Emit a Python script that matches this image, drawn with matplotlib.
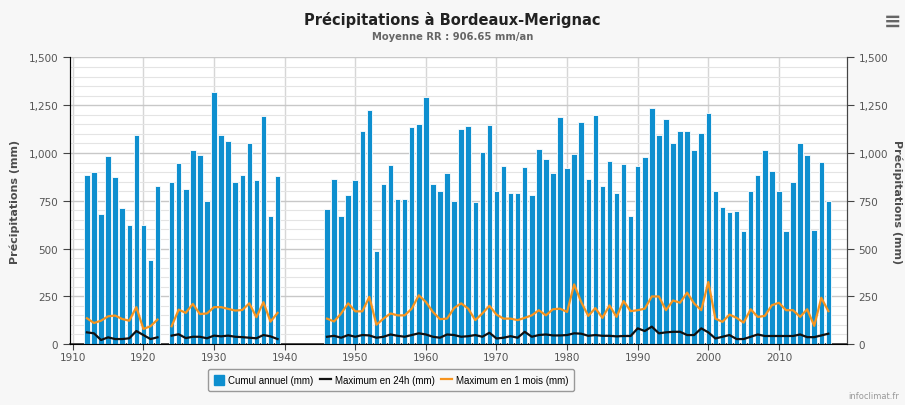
import numpy as np
import matplotlib
matplotlib.use("Agg")
import matplotlib.pyplot as plt
from matplotlib.patches import Patch
from matplotlib.lines import Line2D
from matplotlib.ticker import MultipleLocator, FuncFormatter

nan = np.nan
years = list(range(1912, 2018))

# cumul annuel (mm), 1912 -> 2017, trous = annees manquantes
cumul = [887, 898, 683, 985, 872, 711, 622, 1092, 622, 442,
         825, nan, 846, 945, 812, 1013, 989, 749, 1321, 1096,
         1061, 846, 886, 1054, 856, 1193, 671, 882, nan, nan,
         nan, nan, nan, nan, 709, 866, 671, 779, 861, 1115,
         1225, 489, 839, 936, 758, 758, 1134, 1151, 1295, 839,
         800, 896, 749, 1123, 1141, 744, 1003, 1146, 802, 931,
         791, 791, 926, 779, 1022, 966, 893, 1190, 921, 994,
         1164, 866, 1198, 828, 957, 791, 943, 669, 931, 978,
         1235, 1094, 1178, 1054, 1115, 1115, 1017, 1102, 1209, 802,
         718, 692, 695, 594, 802, 884, 1013, 905, 802, 589,
         846, 1054, 992, 599, 954, 748]

# maximum en 24h (mm)
max_24h = [61, 56, 21, 35, 26, 26, 30, 68, 47, 26,
           35, nan, 44, 51, 31, 38, 38, 30, 44, 40,
           44, 38, 36, 33, 30, 47, 40, 26, nan, nan,
           nan, nan, nan, nan, 38, 43, 33, 47, 38, 47,
           45, 33, 38, 50, 43, 38, 47, 56, 50, 38,
           33, 50, 47, 38, 41, 47, 38, 59, 29, 33,
           41, 33, 64, 38, 47, 50, 45, 45, 47, 56,
           54, 43, 47, 43, 43, 40, 42, 42, 82, 68,
           91, 56, 61, 64, 64, 47, 47, 82, 61, 29,
           38, 47, 26, 26, 38, 50, 42, 42, 42, 42,
           42, 50, 36, 36, 45, 54]

# maximum en 1 mois (mm)
max_1m = [135, 110, 122, 145, 149, 131, 122, 193, 79, 93,
          128, nan, 93, 180, 163, 210, 157, 160, 193, 193,
          184, 175, 178, 213, 140, 219, 117, 163, nan, nan,
          nan, nan, nan, nan, 133, 118, 160, 213, 171, 171,
          247, 101, 133, 160, 150, 150, 185, 255, 220, 168,
          130, 133, 188, 213, 185, 125, 160, 200, 154, 133,
          133, 125, 137, 150, 177, 150, 182, 185, 168, 312,
          220, 147, 188, 137, 202, 142, 225, 172, 177, 185,
          249, 249, 177, 228, 216, 269, 212, 177, 325, 133,
          116, 154, 137, 112, 182, 142, 147, 203, 216, 177,
          177, 142, 182, 95, 242, 172]

blue = '#0e8fcf'
orange = '#f7941e'
grey_txt = '#555555'

fig = plt.figure(figsize=(9.05, 4.06), dpi=100, facecolor='#f7f7f7')
ax = fig.add_axes([0.0773, 0.1502, 0.8583, 0.7058])
ax.set_facecolor('white')

ax.bar(years, cumul, width=0.78, color=blue, edgecolor='white', linewidth=0.6, zorder=3)
ax.plot(years, max_24h, color='#111111', lw=1.6, zorder=4)
ax.plot(years, max_1m, color=orange, lw=1.6, zorder=4)

ax.set_xlim(1909.6, 2019.6)
ax.set_ylim(0, 1500)
ax.yaxis.set_major_locator(MultipleLocator(250))
ax.yaxis.set_minor_locator(MultipleLocator(50))
ax.xaxis.set_major_locator(MultipleLocator(10))
fmt = FuncFormatter(lambda v, p: f"{int(v):,}")
ax.yaxis.set_major_formatter(fmt)

ax.grid(axis='y', which='major', color='#c8c8c8', lw=1.0, zorder=0)
ax.grid(axis='y', which='minor', color='#e4e4e4', lw=0.8, zorder=0)
ax.grid(axis='x', which='major', color='#d6d6d6', lw=1.0, zorder=0)

ax.spines['top'].set_visible(False)
ax.spines['left'].set_color('#444444')
ax.spines['right'].set_color('#444444')
ax.spines['bottom'].set_color('#333333')
ax.spines['bottom'].set_linewidth(1.2)

ax.tick_params(axis='y', which='major', length=5, color='#444444', labelsize=7.5, labelcolor=grey_txt)
ax.tick_params(axis='y', which='minor', length=0)
ax.tick_params(axis='x', length=4, color='#444444', labelsize=7.5, labelcolor=grey_txt, pad=2)
ax.set_ylabel("Précipitations (mm)", fontsize=8, fontweight='bold', color='#4d4d4d', labelpad=6)

ax2 = ax.twinx()
ax2.set_ylim(0, 1500)
ax2.yaxis.set_major_locator(MultipleLocator(250))
ax2.yaxis.set_major_formatter(fmt)
ax2.spines['top'].set_visible(False)
ax2.spines['right'].set_color('#444444')
ax2.tick_params(axis='y', length=5, color='#444444', labelsize=7.5, labelcolor=grey_txt)
ax2.set_ylabel("Précipitations (mm)", fontsize=8, fontweight='bold', color='#4d4d4d',
               rotation=270, labelpad=10)

fig.text(0.5, 1 - 20/406, "Précipitations à Bordeaux-Merignac", ha='center', va='center',
         fontsize=10.5, fontweight='bold', color='#222222')
fig.text(0.5, 1 - 37/406, "Moyenne RR : 906.65 mm/an", ha='center', va='center',
         fontsize=7.2, fontweight='bold', color='#666666')
fig.text(893/905, 1 - 22/406, "≡", ha='center', va='center', fontsize=15,
         fontweight='bold', color='#666666')
fig.text(848/905, 1 - 397/406, "infoclimat.fr", ha='left', va='center',
         fontsize=6, color='#999999')

handles = [Patch(facecolor=blue, edgecolor=blue),
           Line2D([], [], color='#111111', lw=1.6),
           Line2D([], [], color=orange, lw=1.6)]
labels = ["Cumul annuel (mm)", "Maximum en 24h (mm)", "Maximum en 1 mois (mm)"]
fig.legend(handles, labels, loc='center', bbox_to_anchor=(391/905, 1 - 381/406), ncol=3,
           prop={'family': 'Liberation Sans', 'size': 7.0}, frameon=True, fancybox=True,
           edgecolor='#999999', facecolor='#f8f8f8',
           handlelength=1.1, handleheight=1.2, columnspacing=0.7, handletextpad=0.4,
           borderpad=0.6, framealpha=1)

fig.savefig("out.png", dpi=100, facecolor=fig.get_facecolor())
